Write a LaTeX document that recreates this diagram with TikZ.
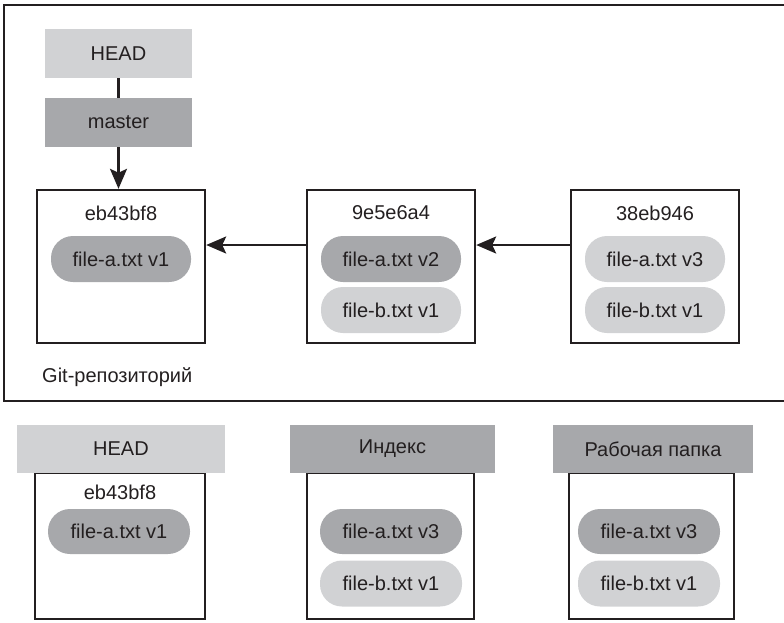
\documentclass[tikz,border=0pt]{standalone}
\usepackage{fontspec}
\setmainfont{Liberation Sans}
\usetikzlibrary{arrows.meta,calc}
\definecolor{lightg}{HTML}{D1D2D4}
\definecolor{darkg}{HTML}{A7A8AB}
\definecolor{ink}{HTML}{231F20}
\tikzset{
  txt/.style={font=\fontsize{20}{24}\selectfont, text=ink, inner sep=0pt},
  hdr/.style={txt, minimum width=147pt, minimum height=49pt, draw=none},
  commitbox/.style={draw=ink, line width=2.4pt, minimum width=168pt, minimum height=153pt, inner sep=0pt},
  pill/.style={txt, rounded corners=22pt, minimum width=140pt, minimum height=46pt},
  pa/.style={pill, fill=darkg},
  pb/.style={pill, fill=lightg},
  arr/.style={draw=ink, line width=2.4pt, -{Stealth[length=20pt,width=17pt,inset=4pt]}},
  plain/.style={draw=ink, line width=2.4pt}
}
\begin{document}
\begin{tikzpicture}[x=1pt,y=-1pt]
\useasboundingbox (0,0) rectangle (784,622);
\clip (0,0) rectangle (784,622);
% repository frame
\draw[ink, line width=2.6pt] (4,5) rectangle (795,401);
\node[txt, anchor=west] (repo) at (42,377) {Git-репозиторий};

% HEAD -> master
\node[hdr, fill=lightg] (head) at (118.5,53.5) {HEAD};
\node[hdr, fill=darkg] (master) at (118.5,122.5) {master};

% commits
\node[commitbox] (c1) at (121,266.5) {};
\node[commitbox] (c2) at (391,266.5) {};
\node[commitbox] (c3) at (655,266.5) {};
\node[txt] (t1) at (121,213) {eb43bf8};
\node[txt] (t2) at (391,213) {9e5e6a4};
\node[txt] (t3) at (655,213) {38eb946};
\node[pa] (c1a) at (121,259) {file-a.txt v1};
\node[pa] (c2a) at (391,259) {file-a.txt v2};
\node[pb] (c2b) at (391,310) {file-b.txt v1};
\node[pb] (c3a) at (655,259) {file-a.txt v3};
\node[pb] (c3b) at (655,310) {file-b.txt v1};

\draw[plain] (head.south) -- (master.north);
\draw[arr] (master.south) -- (master.south |- c1.north);
\draw[arr] ([yshift=21.5pt]c2.west) -- ([yshift=21.5pt]c1.east);
\draw[arr] ([yshift=21.5pt]c3.west) -- ([yshift=21.5pt]c2.east);

% bottom: HEAD
\node[commitbox, minimum width=170pt, minimum height=146pt] (bh) at (120,546) {};
\node[hdr, fill=lightg, minimum width=208pt, minimum height=48pt] (bhh) at (121,449) {HEAD};
\node[txt] (bht) at (120,492) {eb43bf8};
\node[pa, minimum width=142pt, minimum height=45pt] (bha) at (119,531.5) {file-a.txt v1};

% bottom: index
\node[commitbox, minimum width=167pt, minimum height=146pt] (bi) at (390.5,546) {};
\node[hdr, fill=darkg, minimum width=205pt, minimum height=48pt] (bih) at (392.5,449) {Индекс};
\node[pa, minimum width=142pt, minimum height=45pt] (bia) at (391,531.5) {file-a.txt v3};
\node[pb, minimum width=142pt, minimum height=46pt] (bib) at (391,583.5) {file-b.txt v1};

% bottom: working dir
\node[commitbox, minimum width=165pt, minimum height=146pt] (bw) at (651.5,546) {};
\node[hdr, fill=darkg, minimum width=200pt, minimum height=48pt] (bwh) at (653,449) {Рабочая папка};
\node[pa, minimum width=142pt, minimum height=45pt] (bwa) at (649,531.5) {file-a.txt v3};
\node[pb, minimum width=142pt, minimum height=46pt] (bwb) at (649,583.5) {file-b.txt v1};
\end{tikzpicture}
\end{document}
